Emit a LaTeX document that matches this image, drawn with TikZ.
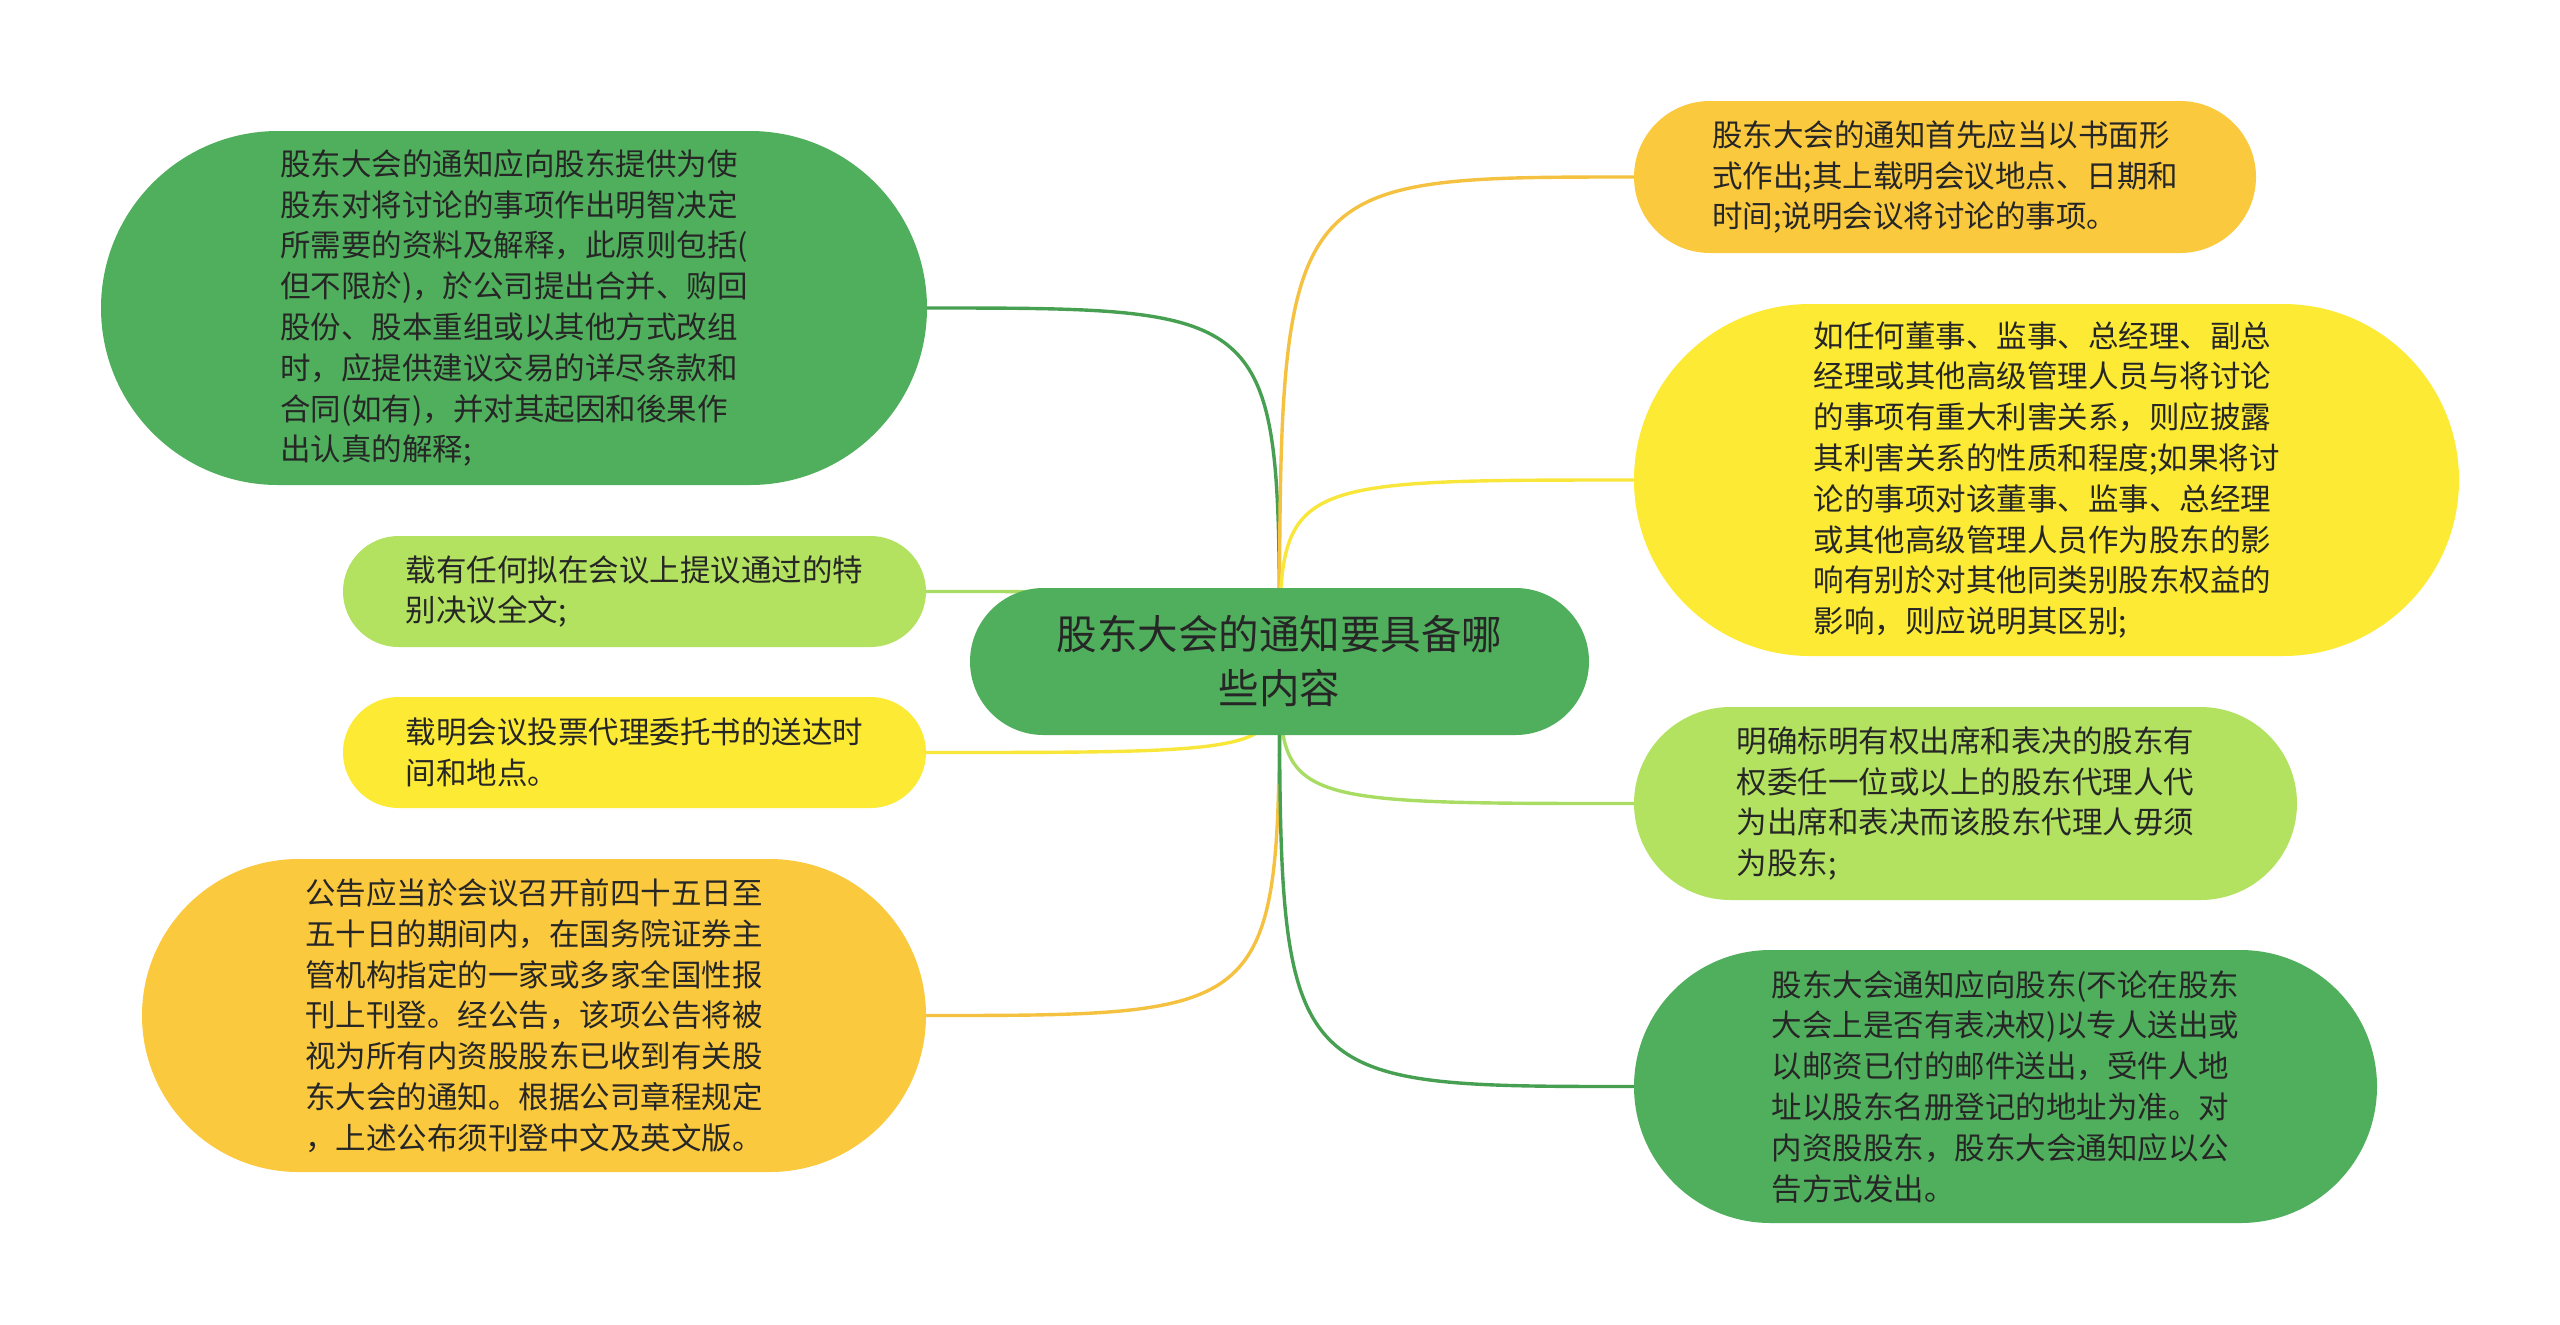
\documentclass[tikz,border=0pt]{standalone}
\usepackage{fontspec}
\setmainfont{Noto Sans CJK SC}
\usetikzlibrary{backgrounds}
\definecolor{cgreen}{HTML}{50AF5C}
\definecolor{clgreen}{HTML}{B2E25F}
\definecolor{cyellow}{HTML}{FCEA35}
\definecolor{camber}{HTML}{FBC93E}
\definecolor{lgreen}{HTML}{47A052}
\definecolor{llgreen}{HTML}{A9DC62}
\definecolor{lyellow}{HTML}{F8E63A}
\definecolor{lamber}{HTML}{F4C240}
\definecolor{txt}{HTML}{262626}
\tikzset{
  pill/.style={draw=none, rectangle, align=left, text=txt, inner sep=0pt,
    font=\fontsize{15.25pt}{20.4pt}\selectfont},
  rootpill/.style={draw=none, rectangle, align=center, text=txt, inner sep=0pt,
    font=\fontsize{20.25pt}{27pt}\selectfont},
  link/.style={line width=1.7pt, line cap=round}
}
\begin{document}
\begin{tikzpicture}[x=0.5pt,y=-0.5pt]
\useasboundingbox (0,0) rectangle (2560,1324);

\node[rootpill, fill=cgreen, minimum width=309.5pt, minimum height=73.5pt, rounded corners=36.75pt] (root) at (1279.5,661.5)
  {股东大会的通知要具备哪\\些内容};

\node[pill, fill=cgreen, minimum width=413pt, minimum height=177pt, rounded corners=88.5pt] (n1) at (514,308)
  {股东大会的通知应向股东提供为使\\股东对将讨论的事项作出明智决定\\所需要的资料及解释，此原则包括(\\但不限於)，於公司提出合并、购回\\股份、股本重组或以其他方式改组\\时，应提供建议交易的详尽条款和\\合同(如有)，并对其起因和後果作\\出认真的解释;};

\node[pill, fill=clgreen, minimum width=291.5pt, minimum height=55.5pt, rounded corners=27.75pt] (n2) at (634.5,591.5)
  {载有任何拟在会议上提议通过的特\\别决议全文;};

\node[pill, fill=cyellow, minimum width=291.5pt, minimum height=55.5pt, rounded corners=27.75pt] (n3) at (634.5,752.5)
  {载明会议投票代理委托书的送达时\\间和地点。};

\node[pill, fill=camber, minimum width=392pt, minimum height=156.5pt, rounded corners=78.25pt] (n4) at (534,1015.5)
  {公告应当於会议召开前四十五日至\\五十日的期间内，在国务院证券主\\管机构指定的一家或多家全国性报\\刊上刊登。经公告，该项公告将被\\视为所有内资股股东已收到有关股\\东大会的通知。根据公司章程规定\\，上述公布须刊登中文及英文版。};

\node[pill, fill=camber, minimum width=311pt, minimum height=76pt, rounded corners=38pt] (n5) at (1945,177)
  {股东大会的通知首先应当以书面形\\式作出;其上载明会议地点、日期和\\时间;说明会议将讨论的事项。};

\node[pill, fill=cyellow, minimum width=412.5pt, minimum height=176pt, rounded corners=88pt] (n6) at (2046.5,480)
  {如任何董事、监事、总经理、副总\\经理或其他高级管理人员与将讨论\\的事项有重大利害关系，则应披露\\其利害关系的性质和程度;如果将讨\\论的事项对该董事、监事、总经理\\或其他高级管理人员作为股东的影\\响有别於对其他同类别股东权益的\\影响，则应说明其区别;};

\node[pill, fill=clgreen, minimum width=331.5pt, minimum height=96.5pt, rounded corners=48.25pt] (n7) at (1965.5,803.5)
  {明确标明有权出席和表决的股东有\\权委任一位或以上的股东代理人代\\为出席和表决而该股东代理人毋须\\为股东;};

\node[pill, fill=cgreen, minimum width=371.5pt, minimum height=136.5pt, rounded corners=68.25pt] (n8) at (2005.5,1086.5)
  {股东大会通知应向股东(不论在股东\\大会上是否有表决权)以专人送出或\\以邮资已付的邮件送出，受件人地\\址以股东名册登记的地址为准。对\\内资股股东，股东大会通知应以公\\告方式发出。};

\begin{scope}[on background layer]
  \draw[link, lgreen]  (root.center) .. controls (root.center |- n1.east) .. (n1.east);
  \draw[link, llgreen] (root.center) .. controls (root.center |- n2.east) .. (n2.east);
  \draw[link, lyellow] (root.center) .. controls (root.center |- n3.east) .. (n3.east);
  \draw[link, lamber]  (root.center) .. controls (root.center |- n4.east) .. (n4.east);
  \draw[link, lamber]  (root.center) .. controls (root.center |- n5.west) .. (n5.west);
  \draw[link, lyellow] (root.center) .. controls (root.center |- n6.west) .. (n6.west);
  \draw[link, llgreen] (root.center) .. controls (root.center |- n7.west) .. (n7.west);
  \draw[link, lgreen]  (root.center) .. controls (root.center |- n8.west) .. (n8.west);
\end{scope}
\end{tikzpicture}
\end{document}
